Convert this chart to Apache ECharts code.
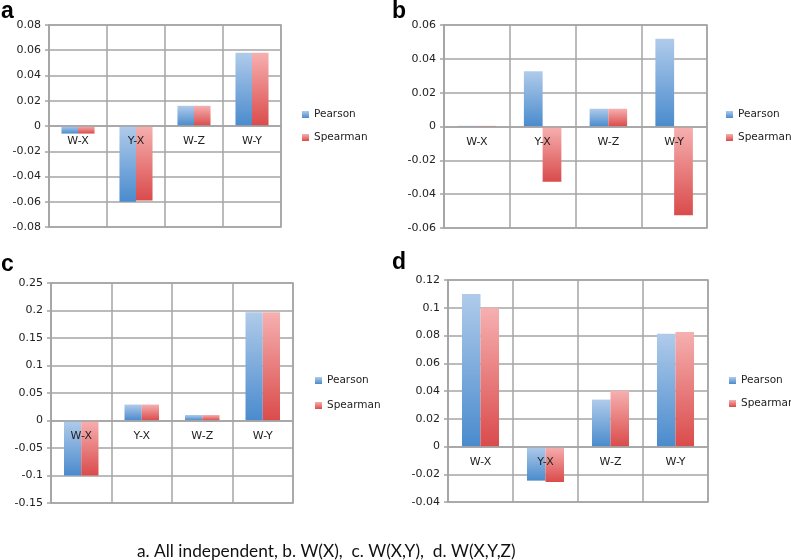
<!DOCTYPE html>
<html>
<head>
<meta charset="utf-8">
<script src="https://cdn.jsdelivr.net/npm/echarts@6/dist/echarts.min.js"></script>
<style>
  html, body { margin: 0; padding: 0; background: #fff; }
  #chart { width: 791px; height: 560px; }
</style>
</head>
<body>
<div id="chart"></div>
<script>
const categories = ["W-X", "Y-X", "W-Z", "W-Y"];
const seriesNames = ["Pearson", "Spearman"];

// panel a: all independent
const aPearson = [-0.006, -0.060, 0.016, 0.058];
const aSpearman = [-0.006, -0.059, 0.016, 0.058];
// panel b: W(X)
const bPearson = [0.0004, 0.0326, 0.0105, 0.0519];
const bSpearman = [0.0004, -0.0326, 0.0105, -0.0525];
// panel c: W(X,Y)
const cPearson = [-0.1, 0.029, 0.01, 0.197];
const cSpearman = [-0.1, 0.029, 0.01, 0.197];
// panel d: W(X,Y,Z)
const dPearson = [0.110, -0.0246, 0.0338, 0.0812];
const dSpearman = [0.100, -0.0256, 0.0402, 0.0826];

const yRanges = [
  { min: -0.08, max: 0.08, interval: 0.02 },
  { min: -0.06, max: 0.06, interval: 0.02 },
  { min: -0.15, max: 0.25, interval: 0.05 },
  { min: -0.04, max: 0.12, interval: 0.02 },
];
const panelLetters = ["a", "b", "c", "d"];
const caption = "a. All independent, b. W(X),  c. W(X,Y),  d. W(X,Y,Z)";

const panels = [
  { grid: { left: 49, top: 25, width: 232, height: 202 }, legend: { left: 302, top: 109, itemGap: 12 }, letter: [1, 0] },
  { grid: { left: 444, top: 25, width: 263, height: 203 }, legend: { left: 726, top: 109, itemGap: 12 }, letter: [392, 0] },
  { grid: { left: 51, top: 283, width: 242, height: 220 }, legend: { left: 315, top: 375, itemGap: 14 }, letter: [1, 253] },
  { grid: { left: 448, top: 280, width: 260, height: 222 }, legend: { left: 729, top: 375, itemGap: 12 }, letter: [392, 251] },
];
const values = [
  [aPearson, aSpearman],
  [bPearson, bSpearman],
  [cPearson, cSpearman],
  [dPearson, dSpearman],
];

const gridColor = "#a4a4a4";
const labelFont = { color: "#222", fontFamily: "DejaVu Sans", fontSize: 11 };

function gradient(top, bottom) {
  return {
    type: "linear", x: 0, y: 0, x2: 0, y2: 1,
    colorStops: [{ offset: 0, color: top }, { offset: 1, color: bottom }],
  };
}
const barColors = [gradient("#b0cbea", "#4a8bcd"), gradient("#f6b0b0", "#da4b4b")];

// category labels sit next to the zero line, like the original spreadsheet chart
function zeroOffset(i) {
  const r = yRanges[i];
  return -panels[i].grid.height * (0 - r.min) / (r.max - r.min);
}

const option = {
  backgroundColor: "#fff",
  animation: false,
  title: panels.map((p, i) => ({
    text: panelLetters[i],
    left: p.letter[0],
    top: p.letter[1],
    padding: 0,
    textStyle: { fontFamily: "Liberation Sans", fontWeight: "bold", fontSize: 23, color: "#000" },
  })),
  legend: panels.map((p) => ({
    data: seriesNames,
    orient: "vertical",
    left: p.legend.left,
    top: p.legend.top,
    itemGap: p.legend.itemGap,
    padding: 0,
    itemWidth: 7,
    itemHeight: 7,
    icon: "rect",
    selectedMode: false,
    textStyle: { ...labelFont, fontSize: 10.5 },
  })),
  grid: panels.map((p) => ({
    ...p.grid,
    show: true,
    borderColor: gridColor,
    borderWidth: 1.5,
  })),
  xAxis: panels.map((p, i) => ({
    type: "category",
    gridIndex: i,
    data: categories,
    z: 10,
    offset: zeroOffset(i),
    axisLine: { onZero: false, lineStyle: { color: gridColor, width: 1.5 } },
    axisTick: { show: false },
    axisLabel: { ...labelFont, margin: 10, interval: 0 },
    splitLine: { show: true, interval: 0, lineStyle: { color: gridColor, width: 1.5 } },
  })),
  yAxis: panels.map((p, i) => ({
    type: "value",
    gridIndex: i,
    min: yRanges[i].min,
    max: yRanges[i].max,
    interval: yRanges[i].interval,
    axisLine: { show: true, lineStyle: { color: gridColor, width: 1.5 } },
    axisTick: { show: true, length: 4, lineStyle: { color: gridColor, width: 1.5 } },
    axisLabel: { ...labelFont, margin: 8 },
    splitLine: { show: true, lineStyle: { color: gridColor, width: 1.5 } },
  })),
  series: [],
  graphic: [{
    type: "text",
    left: 137,
    top: 543,
    style: { text: caption, font: "17.3px Lato", fill: "#111" },
  }],
};

values.forEach((pair, i) => {
  pair.forEach((data, k) => {
    option.series.push({
      name: seriesNames[k],
      type: "bar",
      xAxisIndex: i,
      yAxisIndex: i,
      data: data,
      barGap: "0%",
      barCategoryGap: "43%",
      itemStyle: { color: barColors[k] },
    });
  });
});

const chart = echarts.init(document.getElementById("chart"), null, { renderer: "canvas" });
chart.setOption(option);
</script>
</body>
</html>
